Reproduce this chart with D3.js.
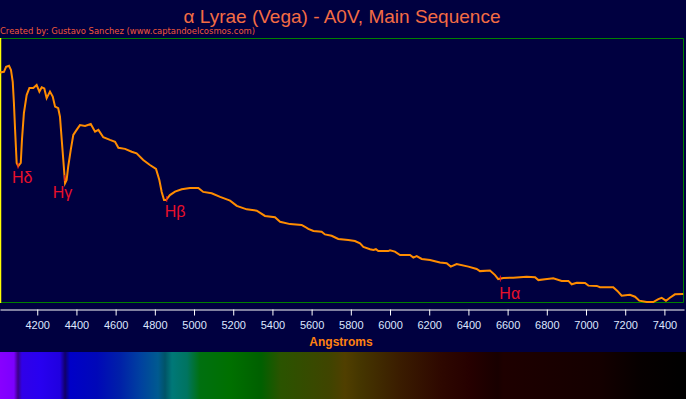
<!DOCTYPE html>
<html lang="en">
<head>
    <meta charset="UTF-8">
    <title>Vega Spectrum</title>
    <style>
        body {
            margin: 0;
            background-color: #000040;
        }
        svg {
            display: block;
        }
        .tick text {
            font-family: "Liberation Sans", Arial, sans-serif;
            font-size: 11px;
            fill: #dde6ff;
        }
    </style>
</head>
<body>
    <script src="https://d3js.org/d3.v7.min.js"></script>
    <script>
        const width = 686;
        const height = 399;

        // spectrum (Angstroms, relative flux)
        const waves = [4010, 4030, 4041, 4056, 4066, 4075, 4081, 4087, 4095, 4103, 4116, 4122, 4132, 4146, 4160, 4180,
            4197, 4211, 4223, 4236, 4248, 4265, 4279, 4291, 4307, 4316, 4325, 4333, 4342, 4350, 4358, 4371, 4384,
            4401, 4418, 4444, 4473, 4495, 4512, 4537, 4571, 4597, 4614, 4648, 4682, 4707, 4741, 4775, 4806, 4823,
            4835, 4847, 4857, 4877, 4903, 4937, 4979, 5022, 5047, 5090, 5133, 5184, 5218, 5269, 5320, 5362, 5413,
            5439, 5490, 5549, 5566, 5583, 5609, 5651, 5668, 5702, 5736, 5787, 5821, 5847, 5864, 5898, 5915, 5928,
            5940, 5991, 6000, 6025, 6051, 6102, 6119, 6136, 6162, 6204, 6255, 6289, 6310, 6340, 6400, 6442, 6459,
            6510, 6536, 6552, 6578, 6629, 6697, 6740, 6757, 6791, 6833, 6876, 6910, 6927, 6953, 6995, 7012, 7055,
            7071, 7139, 7160, 7182, 7224, 7250, 7272, 7310, 7343, 7369, 7386, 7408, 7428, 7454, 7496];
        const flux = [86.9, 87.2, 89.1, 89.5, 87.9, 83.4, 75.4, 65.2, 52.7, 51.5, 52.7, 61.4, 71.6, 78.4, 81.1, 81.1,
            82.2, 79.7, 81.3, 80.9, 77.2, 79.7, 77.8, 74.0, 73.4, 70.2, 61.4, 53.8, 45.0, 46.2, 51.3, 57.6, 63.3,
            65.2, 67.0, 66.7, 67.4, 64.5, 65.2, 62.4, 61.4, 60.7, 58.4, 58.0, 56.9, 56.3, 53.8, 51.9, 50.4, 46.2,
            41.7, 38.6, 38.6, 40.5, 41.8, 42.7, 43.2, 43.2, 41.7, 41.2, 39.8, 38.4, 36.4, 35.1, 34.6, 32.6, 32.1,
            30.4, 29.5, 29.2, 28.5, 27.7, 26.9, 26.6, 25.6, 25.1, 23.9, 23.5, 23.1, 22.2, 20.9, 20.0, 19.7, 20.0,
            19.3, 19.3, 19.6, 19.1, 17.8, 17.8, 16.8, 17.4, 16.3, 15.9, 15.0, 14.7, 13.4, 14.4, 13.4, 12.5, 11.7,
            11.9, 10.2, 8.7, 9.1, 9.2, 9.6, 9.4, 8.3, 8.6, 9.0, 8.0, 8.0, 6.7, 7.3, 7.2, 6.2, 6.1,
            5.6, 5.6, 4.2, 2.4, 2.7, 2.0, 0.5, 0.0, 0.0, 1.1, 1.6, 0.5, 1.6, 2.9, 3.0];

        // Balmer lines
        const lineNames = ["Hδ", "Hγ", "Hβ", "Hα"];
        const lineWaves = [4102, 4340, 4861, 6563];

        const ticks = [4200, 4400, 4600, 4800, 5000, 5200, 5400, 5600, 5800, 6000, 6200, 6400, 6600, 6800, 7000, 7200, 7400];

        // colour strip under the axis
        const stripWaves = [4010, 4081, 4102, 4122, 4214, 4316, 4342, 4367, 4505, 4622, 4724, 4816, 4852, 4888, 4964,
            5030, 5184, 5342, 5439, 5694, 5770, 5847, 6051, 6255, 6408, 6551, 6577, 7071, 7276, 7510];
        const stripColors = ["#8800ff", "#7c00ff", "#3c0088", "#3000e8", "#2800f0", "#2000e0", "#100068", "#0000c8",
            "#0008b8", "#0020a8", "#0040a0", "#005a90", "#005468", "#007878", "#007460", "#007010", "#007000",
            "#006000", "#2a5400", "#404400", "#503f00", "#453600", "#3a1c00", "#2e0800", "#260000", "#180000",
            "#1e0000", "#140000", "#060000", "#000000"];

        const plot = { left: 0, right: 684, top: 38, bottom: 302 };

        const x = d3.scaleLinear().domain([4010, 7500]).range([plot.left, plot.right]);
        const y = d3.scaleLinear().domain([0, 100]).range([plot.bottom, plot.top]);

        const svg = d3.select("body")
            .append("svg")
            .attr("width", width)
            .attr("height", height);

        svg.append("rect")
            .attr("width", width)
            .attr("height", height)
            .attr("fill", "#000040");

        // title
        svg.append("text")
            .attr("x", 342)
            .attr("y", 23)
            .attr("text-anchor", "middle")
            .style("font-family", "'Liberation Sans', Arial, sans-serif")
            .style("font-size", "19px")
            .style("fill", "#f46c44")
            .text("α Lyrae (Vega) - A0V, Main Sequence");

        svg.append("text")
            .attr("x", 0)
            .attr("y", 34)
            .attr("textLength", 255)
            .attr("lengthAdjust", "spacingAndGlyphs")
            .style("font-family", "'DejaVu Sans', Verdana, sans-serif")
            .style("font-size", "8.8px")
            .style("fill", "#f0583a")
            .text("Created by: Gustavo Sanchez (www.captandoelcosmos.com)");

        // frame
        svg.append("path")
            .attr("d", `M${plot.left},${plot.top + 0.5}H${plot.right - 0.5}V${plot.bottom + 0.5}H${plot.left}`)
            .attr("fill", "none")
            .attr("stroke", "#008000")
            .attr("stroke-width", 1);

        svg.append("line")
            .attr("x1", 0.5).attr("x2", 0.5)
            .attr("y1", plot.top).attr("y2", plot.bottom + 1)
            .attr("stroke", "#ffff00")
            .attr("stroke-width", 1.5);

        // spectrum curve
        const pts = waves.map((w, i) => [w, flux[i]]);
        const line = d3.line()
            .x(d => x(d[0]))
            .y(d => y(d[1]));

        svg.append("path")
            .datum(pts)
            .attr("d", line)
            .attr("fill", "none")
            .attr("stroke", "#ff8c00")
            .attr("stroke-width", 2)
            .attr("stroke-linejoin", "miter");

        // Balmer markers
        const fluxAt = w => {
            const i = d3.bisectLeft(waves, w);
            if (i <= 0) return flux[0];
            const t = (w - waves[i - 1]) / (waves[i] - waves[i - 1]);
            return flux[i - 1] + t * (flux[i] - flux[i - 1]);
        };
        const labelDx = [-6, -12, -2, -1];
        const labelDy = [17, 20, 18, 20];

        lineWaves.forEach((w, i) => {
            const cx = x(w);
            const cy = y(fluxAt(w));
            svg.append("line")
                .attr("x1", cx).attr("x2", cx)
                .attr("y1", cy - 3).attr("y2", cy + 3)
                .attr("stroke", "#e8102a")
                .attr("stroke-width", 1);
            svg.append("text")
                .attr("x", cx + labelDx[i])
                .attr("y", cy + labelDy[i])
                .style("font-family", "'Liberation Sans', Arial, sans-serif")
                .style("font-size", "16px")
                .style("fill", "#e8102a")
                .text(lineNames[i]);
        });

        // axis
        const axis = svg.append("g")
            .attr("transform", "translate(0,309.5)")
            .call(d3.axisBottom(x).tickValues(ticks).tickSize(6).tickSizeOuter(0).tickPadding(6).tickFormat(d3.format("d")));
        axis.select(".domain").attr("stroke", "#ffffff");
        axis.selectAll(".tick line").attr("stroke", "#ffffff");

        svg.append("text")
            .attr("x", 341)
            .attr("y", 346)
            .attr("text-anchor", "middle")
            .style("font-family", "'Liberation Sans', Arial, sans-serif")
            .style("font-size", "12px")
            .style("font-weight", "bold")
            .style("fill", "#ff8010")
            .text("Angstroms");

        // colour strip
        const grad = svg.append("defs").append("linearGradient")
            .attr("id", "strip")
            .attr("x1", "0%").attr("x2", "100%");
        grad.selectAll("stop")
            .data(stripWaves)
            .enter()
            .append("stop")
            .attr("offset", d => Math.min(1, x(d) / width))
            .attr("stop-color", (d, i) => stripColors[i]);

        svg.append("rect")
            .attr("x", 0)
            .attr("y", 352)
            .attr("width", width)
            .attr("height", height - 352)
            .attr("fill", "url(#strip)");
    </script>
</body>
</html>
